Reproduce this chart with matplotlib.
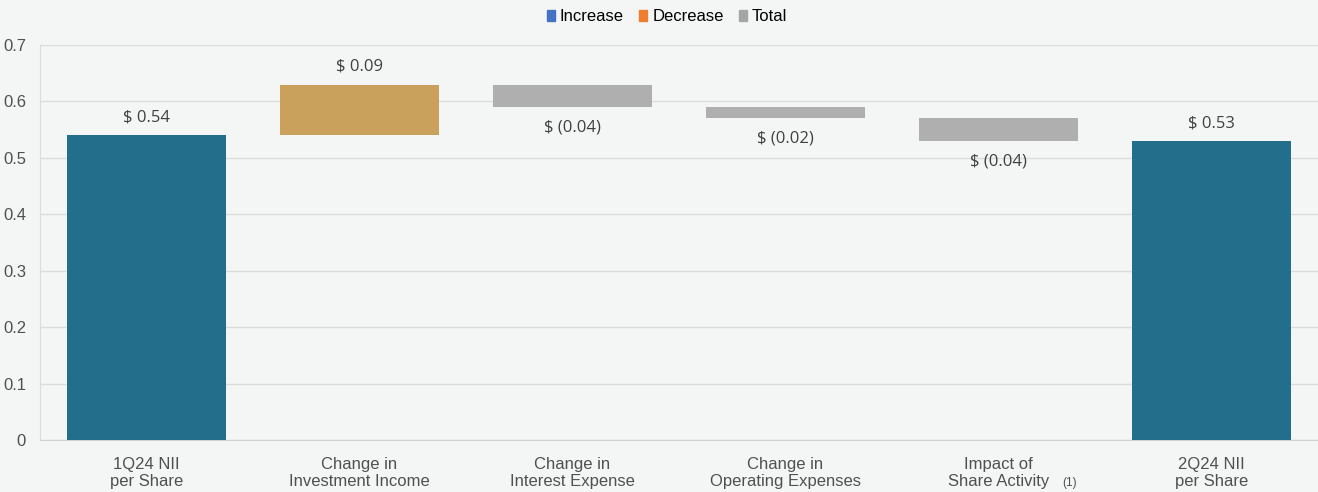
import numpy as np
import matplotlib.pyplot as plt
from matplotlib.patches import Patch
import matplotlib.transforms as mtransforms

categories = ['1Q24 NII\nper Share', 'Change in\nInvestment Income', 'Change in\nInterest Expense',
              'Change in\nOperating Expenses', 'Impact of\nShare Activity', '2Q24 NII\nper Share']
start_value = 0.54
changes = [0.09, -0.04, -0.02, -0.04]
end_value = 0.53
labels = ['$ 0.54', '$ 0.09', '$ (0.04)', '$ (0.02)', '$ (0.04)', '$ 0.53']

teal = '#236E8A'
gold = '#C9A05C'
gray = '#AFAFAF'

# waterfall geometry
bottoms = [0]
heights = [start_value]
level = start_value
for c in changes:
    if c >= 0:
        bottoms.append(level)
        heights.append(c)
    else:
        bottoms.append(level + c)
        heights.append(-c)
    level += c
bottoms.append(0)
heights.append(end_value)
colors = [teal] + [gold if c >= 0 else gray for c in changes] + [teal]
kinds = ['total'] + ['up' if c >= 0 else 'down' for c in changes] + ['total']

fig = plt.figure(figsize=(13.18, 4.92), dpi=100)
fig.patch.set_facecolor('#F4F5F5')
ax = fig.add_axes([0.0303, 0.1057, 0.9697, 0.8028])
ax.set_facecolor('#F4F5F5')

x = np.arange(len(categories))
ax.bar(x, heights, bottom=bottoms, width=0.75, color=colors, zorder=3)

for i in range(len(x)):
    if kinds[i] == 'down':
        ax.annotate(labels[i], (x[i], bottoms[i]), xytext=(0, -9), textcoords='offset points',
                    ha='center', va='top', fontsize=12, color='#404040', family='Open Sans')
    else:
        ax.annotate(labels[i], (x[i], bottoms[i] + heights[i]), xytext=(0, 7), textcoords='offset points',
                    ha='center', va='bottom', fontsize=12, color='#404040', family='Open Sans')

ax.set_xlim(-0.5, len(x) - 0.5)
ax.set_ylim(0, 0.7)
ax.set_yticks(np.arange(0, 0.71, 0.1))
ax.set_yticklabels(['0', '0.1', '0.2', '0.3', '0.4', '0.5', '0.6', '0.7'])
ax.set_xticks(x)
ax.set_xticklabels(categories, fontsize=12, color='#505050', family='Liberation Sans', linespacing=1.2)
for t in ax.get_yticklabels():
    t.set_fontsize(12)
    t.set_color('#505050')
    t.set_family('Liberation Sans')
ax.tick_params(axis='x', length=0, pad=12)
ax.tick_params(axis='y', length=0, pad=10)
ax.grid(axis='y', color='#DCDCDC', lw=1, zorder=0)
for s in ['top', 'right']:
    ax.spines[s].set_visible(False)
ax.spines['left'].set_color('#DCDCDC')
ax.spines['bottom'].set_color('#D0D0D0')

trans = mtransforms.blended_transform_factory(ax.transData, ax.transAxes)
ax.text(4.335, -0.108, '(1)', transform=trans, fontsize=8.5, color='#505050',
        family='Liberation Sans', ha='center', va='center')

handles = [Patch(color='#4472C4'), Patch(color='#ED7D31'), Patch(color='#A5A5A5')]
fig.legend(handles, ['Increase', 'Decrease', 'Total'], loc='upper center', bbox_to_anchor=(0.506, 1.012),
           ncol=3, frameon=False, handlelength=0.5, handleheight=0.65, handletextpad=0.3,
           columnspacing=0.9, prop={'family': 'Liberation Sans', 'size': 12})

fig.savefig('out.png', dpi=100, facecolor=fig.get_facecolor())
